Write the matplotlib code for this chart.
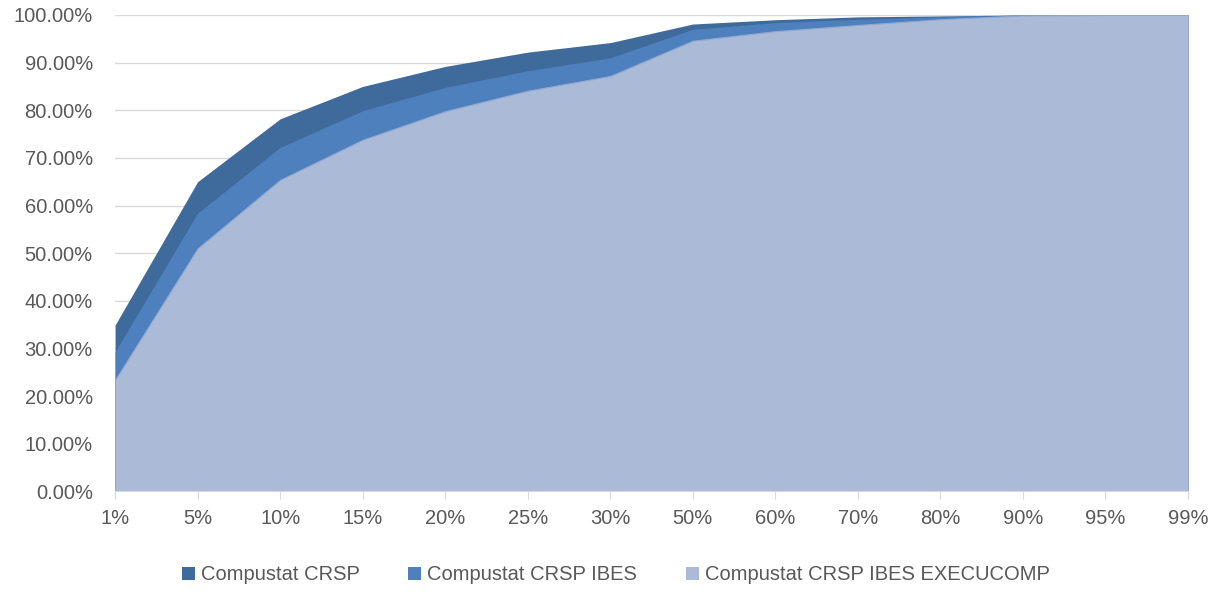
import numpy as np
import matplotlib.pyplot as plt
from matplotlib.patches import Patch
from matplotlib.ticker import FuncFormatter, MultipleLocator

plt.rcParams['font.family'] = ['Liberation Sans', 'DejaVu Sans']

# percentiles on the x axis
percentiles = ['1%', '5%', '10%', '15%', '20%', '25%', '30%',
               '50%', '60%', '70%', '80%', '90%', '95%', '99%']

# cumulative share for each sample (in %)
crsp = [34.9, 65.0, 78.2, 85.0, 89.2, 92.2, 94.2, 98.1, 99.0, 99.6, 99.8, 100, 100, 100]
crsp_ibes = [29.3, 58.4, 72.2, 79.9, 84.8, 88.3, 91.0, 97.0, 98.4, 99.1, 99.6, 100, 100, 100]
crsp_ibes_exec = [23.4, 51.0, 65.4, 73.8, 79.8, 84.1, 87.2, 94.6, 96.6, 97.9, 99.1, 99.9, 100, 100]

labels = ['Compustat CRSP', 'Compustat CRSP IBES', 'Compustat CRSP IBES EXECUCOMP']
colors = ['#3F6B9C', '#4E80BD', '#AABAD7']

txt = '#595959'
grid = '#D9D9D9'
fs = 14.5

fig = plt.figure(figsize=(12.24, 5.92), dpi=100)
ax = fig.add_axes([0.094, 0.170, 0.8766, 0.8047])

x = np.arange(len(percentiles))
ax.fill_between(x, 0, np.array(crsp) / 100, color=colors[0], lw=0, zorder=2)
ax.fill_between(x, 0, np.array(crsp_ibes) / 100, color=colors[1], lw=0, zorder=3)
ax.fill_between(x, 0, np.array(crsp_ibes_exec) / 100, facecolor=colors[2],
                edgecolor='#93A8CE', lw=0.8, zorder=4)

ax.set_xlim(0, len(percentiles) - 1)
ax.set_ylim(0, 1)
ax.set_xticks(x)
ax.set_xticklabels(percentiles)
ax.yaxis.set_major_locator(MultipleLocator(0.1))
ax.yaxis.set_major_formatter(FuncFormatter(lambda v, p: f'{v * 100:.2f}%'))

ax.grid(axis='y', color=grid, lw=1, zorder=0)
ax.set_axisbelow(True)
for s in ['top', 'right', 'left']:
    ax.spines[s].set_visible(False)
ax.spines['bottom'].set_color(grid)
ax.spines['bottom'].set_zorder(5)

ax.tick_params(axis='y', length=0, pad=16, labelsize=fs, labelcolor=txt)
ax.tick_params(axis='x', length=6, color=grid, pad=7, labelsize=fs, labelcolor=txt)

handles = [Patch(facecolor=c, edgecolor='none') for c in colors]
fig.legend(handles, labels, loc='center', bbox_to_anchor=(0.503, 0.029), ncol=3,
           frameon=False, fontsize=fs, labelcolor=txt, handlelength=0.65,
           handleheight=0.65, handletextpad=0.3, columnspacing=2.4)

fig.savefig('out.png', dpi=100)
